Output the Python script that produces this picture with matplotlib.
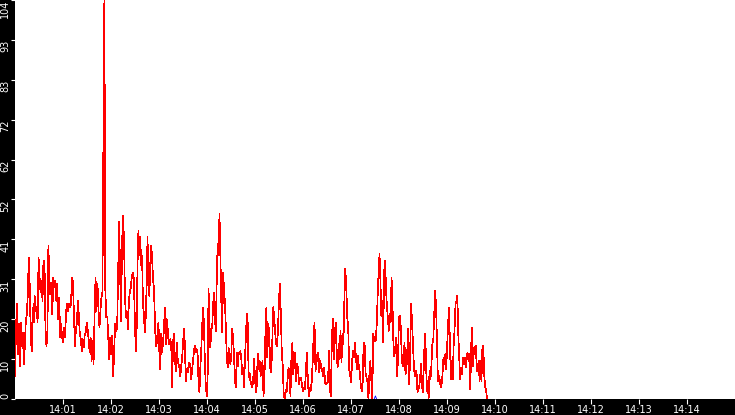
import numpy as np
import pandas as pd
import matplotlib
matplotlib.use("Agg")
import matplotlib.pyplot as plt

day = "2024-01-01 "

# red series in four pieces (start, end, values)
chunk_starts = ["14:00:00", "14:02:32", "14:05:01", "14:07:31"]
chunk_ends = ["14:02:31", "14:05:00", "14:07:29", "14:09:50"]

chunk1 = [6.0, 18.2, 24.7, 11.7, 19.5, 8.6, 19.9, 13.8, 17.3, 9.1, 13.8, 20.4, 22.1, 26.9, 36.9, 29.5,
          16.9, 12.5, 23.9, 19.9, 26.9, 23.0, 23.9, 19.9, 36.9, 31.7, 27.8, 30.8, 25.6, 36.1, 36.1, 18.6,
          13.8, 16.9, 40.0, 30.8, 27.3, 30.4, 22.1, 31.7, 29.1, 30.8, 25.6, 30.0, 20.8, 26.5, 16.0, 19.5,
          16.0, 14.7, 18.6, 16.0, 22.6, 24.7, 23.0, 24.7, 23.9, 24.7, 31.7, 30.4, 21.7, 13.8, 18.2, 19.9,
          25.6, 21.7, 16.9, 15.6, 12.5, 15.6, 13.4, 16.9, 17.3, 19.9, 18.2, 15.6, 12.1, 16.0, 9.9, 15.2,
          9.1, 21.3, 31.7, 23.0, 30.0, 23.4, 18.6, 23.0, 26.5, 27.8, 68.0, 104.0, 27.8, 21.3, 21.3, 16.0,
          10.4, 16.0, 11.7, 16.5, 6.0, 12.5, 19.5, 17.8, 18.6, 31.7, 46.1, 33.4, 20.4, 40.4, 47.8, 41.3,
          26.5, 21.3, 22.6, 18.2, 25.6, 28.2, 29.1, 32.1, 33.0, 31.3, 20.8, 12.5]

chunk2 = [17.3, 34.8, 43.9, 37.4, 42.2, 34.8, 37.4, 24.7, 22.1, 17.3, 21.3, 29.5, 42.2, 28.2, 26.9, 35.2,
          40.0, 36.9, 31.3, 29.1, 21.3, 13.8, 14.3, 17.3, 19.9, 12.1, 7.8, 16.9, 12.1, 14.7, 18.2, 23.9,
          14.3, 20.8, 18.6, 15.2, 14.3, 15.6, 14.3, 3.0, 14.7, 16.9, 10.8, 7.3, 14.7, 10.8, 9.1, 8.2,
          6.0, 8.6, 10.8, 14.7, 18.2, 14.3, 4.7, 7.8, 6.9, 8.6, 9.5, 8.2, 5.1, 7.8, 9.9, 12.5,
          13.8, 12.1, 13.0, 11.7, 4.3, 1.7, 8.2, 13.0, 19.1, 23.9, 19.1, 9.1, 3.4, 0.8, 6.0, 28.7,
          19.1, 13.4, 18.2, 18.6, 24.7, 27.8, 20.8, 17.8, 31.3, 40.4, 37.4, 48.3, 36.5, 25.6, 17.3, 33.0,
          28.7, 25.2, 18.6, 10.8, 8.2, 13.4, 10.8, 9.1, 11.7, 18.2, 16.0, 11.2, 4.7, 3.0, 12.1, 8.6,
          11.7, 12.1, 12.5, 10.4, 6.4, 8.2, 3.0, 10.8, 16.0, 22.1, 19.9, 5.6, 6.9, 4.7, 3.8, 3.0,
          4.7, 10.4, 6.0]

chunk3 = [1.7, 3.4, 11.7, 7.8, 9.9, 6.0, 8.2, 9.9, 0.8, 5.1, 17.3, 23.9, 10.8, 19.5, 16.9, 8.2,
          6.9, 13.4, 23.9, 21.7, 17.8, 14.3, 13.8, 17.8, 25.2, 30.0, 22.1, 12.1, 8.6, 1.2, 0.0, 2.5,
          1.7, 5.1, 8.2, 5.6, 0.8, 10.8, 14.7, 6.4, 11.2, 12.1, 4.7, 9.1, 7.8, 3.8, 5.6, 5.6,
          3.4, 2.1, 3.0, 2.5, 6.9, 12.1, 5.6, 0.8, 3.0, 2.1, 4.3, 9.1, 16.0, 19.9, 7.3, 9.1,
          11.7, 12.1, 6.9, 9.9, 8.2, 7.3, 6.0, 8.2, 4.3, 3.8, 4.3, 4.3, 12.5, 2.5, 0.8, 15.2,
          20.8, 10.4, 16.5, 19.9, 11.7, 8.2, 14.3, 10.4, 17.8, 9.5, 16.9, 14.3, 25.6, 33.9, 29.1, 21.3,
          18.6, 7.8, 6.4, 4.3, 9.9, 12.5, 10.8, 14.7, 10.8, 7.8, 11.2, 8.6, 6.9, 3.8, 2.1, 4.3,
          14.3, 14.7, 6.9, 5.6, 4.3, 0.0, 6.4, 9.9, 4.7, 0.0, 16.9, 15.2]

chunk4 = [15.2, 19.5, 26.9, 33.0, 37.8, 30.8, 21.7, 25.6, 14.7, 33.0, 36.1, 29.1, 23.9, 21.3, 17.8, 22.1,
          19.9, 31.7, 24.7, 14.7, 11.2, 13.4, 16.0, 6.0, 10.8, 21.3, 21.7, 18.6, 10.8, 8.6, 11.2, 14.7,
          6.4, 7.3, 13.0, 18.2, 3.8, 10.8, 24.7, 20.8, 15.2, 9.1, 6.0, 7.3, 6.9, 1.7, 2.5, 3.4,
          6.4, 9.1, 3.0, 1.7, 10.4, 16.9, 12.1, 2.1, 4.7, 0.0, 7.3, 5.1, 8.6, 14.3, 15.2, 21.7,
          28.2, 24.3, 15.2, 4.7, 6.0, 5.1, 3.0, 3.8, 6.4, 10.8, 9.1, 11.7, 7.8, 13.4, 19.5, 23.9,
          14.3, 5.1, 9.9, 5.1, 13.8, 18.2, 24.7, 25.6, 26.9, 16.9, 10.8, 5.1, 8.2, 6.4, 10.8, 9.1,
          10.8, 8.2, 10.8, 12.1, 9.9, 11.7, 2.5, 14.3, 18.6, 8.6, 13.4, 13.4, 13.8, 7.3, 7.8, 9.9,
          4.7, 9.9, 4.7, 13.0, 13.8, 6.4, 3.0, 2.5, 0.0]

# small blue series, only visible as a blip near 14:07:30
blue_times = ["14:07:29.0", "14:07:30.5", "14:07:32.0"]
blue_values = [0, 0.8, 0]

y_max = 104
x_ticks = ["14:01", "14:02", "14:03", "14:04", "14:05", "14:06", "14:07",
           "14:08", "14:09", "14:10", "14:11", "14:12", "14:13", "14:14"]

# build the time axis for the red series
times = pd.DatetimeIndex([])
values = []
for s, e, c in zip(chunk_starts, chunk_ends, [chunk1, chunk2, chunk3, chunk4]):
    times = times.append(pd.date_range(day + s, day + e, periods=len(c)))
    values += c

fig = plt.figure(figsize=(7.35, 4.15), dpi=100, facecolor="black")
ax = fig.add_axes([15 / 735, 16 / 415, 720 / 735, 399 / 415])
ax.set_facecolor("white")

ax.plot(times, values, color="red", lw=0.5, antialiased=False)
blue_x = pd.to_datetime([day + t for t in blue_times], format="%Y-%m-%d %H:%M:%S.%f")
ax.plot(blue_x, blue_values, color="blue", lw=0.6)

ax.set_xlim(pd.Timestamp(day + "14:00"), pd.Timestamp(day + "14:15"))
ax.set_ylim(0, y_max)

ax.set_xticks(pd.to_datetime([day + t for t in x_ticks]))
ax.set_xticklabels(x_ticks)

y_ticks = [y_max * k / 10 for k in range(11)]
ax.set_yticks(y_ticks)
ax.set_yticklabels([str(int(v)) for v in y_ticks], rotation=90, va="top")
ax.get_yticklabels()[0].set_va("bottom")

for sp in ax.spines.values():
    sp.set_visible(False)
ax.tick_params(colors="white", labelsize=7, width=0.8)
ax.tick_params(axis="x", length=3.5, pad=1)
ax.tick_params(axis="y", length=3, pad=0.3)

fig.savefig("out.png", dpi=100, facecolor=fig.get_facecolor())
